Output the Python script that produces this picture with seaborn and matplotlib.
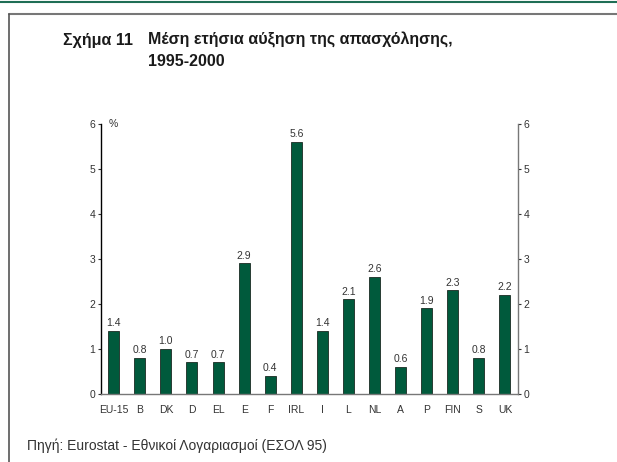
import matplotlib
matplotlib.use("Agg")
import matplotlib.pyplot as plt
from matplotlib.lines import Line2D
import seaborn as sns
import pandas as pd

countries = ["EU-15", "B", "DK", "D", "EL", "E", "F", "IRL", "I", "L",
             "NL", "A", "P", "FIN", "S", "UK"]
growth = [1.4, 0.8, 1.0, 0.7, 0.7, 2.9, 0.4, 5.6, 1.4, 2.1,
          2.6, 0.6, 1.9, 2.3, 0.8, 2.2]
y_ticks = [0, 1, 2, 3, 4, 5, 6]

sns.set_style("white")
plt.rcParams['font.family'] = ['Liberation Sans', 'DejaVu Sans']

df = pd.DataFrame({"country": countries, "growth": growth})

fig = plt.figure(figsize=(6.17, 4.62), dpi=100)
ax = fig.add_axes([0.1632, 0.1472, 0.6763, 0.5844])

sns.barplot(data=df, x="country", y="growth", color="#005a3c",
            saturation=1, width=0.42, edgecolor="#1a2a22", linewidth=0.6, ax=ax)
ax.bar_label(ax.containers[0], fmt="%.1f", padding=2, fontsize=7.5, color="#333333")

ax.set_xlim(-0.5, len(countries) - 0.5)
ax.set_ylim(0, 6)
ax.set_yticks(y_ticks)
ax.set_xlabel("")
ax.set_ylabel("")
ax.tick_params(axis="y", labelsize=7.5, colors="#333333", length=2, width=0.8,
               direction="out", pad=2, left=True)
ax.tick_params(axis="x", labelsize=7.5, colors="#333333", length=0, pad=8)
ax.spines["top"].set_visible(False)
ax.spines["left"].set_color("black")
ax.spines["left"].set_linewidth(1.0)
ax.spines["bottom"].set_color("#777777")
ax.spines["bottom"].set_linewidth(1.0)
ax.spines["right"].set_visible(False)

ax2 = ax.twinx()
ax2.set_ylim(0, 6)
ax2.set_yticks(y_ticks)
for s in ["top", "left", "bottom"]:
    ax2.spines[s].set_visible(False)
ax2.spines["right"].set_color("#777777")
ax2.spines["right"].set_linewidth(1.0)
ax2.tick_params(axis="y", labelsize=7.5, colors="#333333", length=2, width=0.8,
                direction="out", pad=2, right=True)

ax.text(0.02, 6.0, "%", fontsize=7.5, color="#333333", va="center", ha="left",
        transform=ax.get_yaxis_transform())

# title
fig.text(63 / 617, 1 - 40 / 462, "Σχήμα 11", fontsize=11.5, fontweight="bold",
         color="#1a1a1a", va="center", ha="left")
fig.text(148 / 617, 1 - 40 / 462, "Μέση ετήσια αύξηση της απασχόλησης,",
         fontsize=11.5, fontweight="bold", color="#1a1a1a", va="center", ha="left")
fig.text(148 / 617, 1 - 62 / 462, "1995-2000", fontsize=11.5, fontweight="bold",
         color="#1a1a1a", va="center", ha="left")

# source
fig.text(27 / 617, 1 - 446 / 462, "Πηγή: Eurostat - Εθνικοί Λογαριασμοί (ΕΣΟΛ 95)",
         fontsize=10, color="#333333", va="center", ha="left")

# frame lines
fig.add_artist(Line2D([0, 1], [1 - 1.5 / 462] * 2, color="#1f6e55", linewidth=1.5,
                      transform=fig.transFigure))
fig.add_artist(Line2D([9 / 617, 1], [1 - 14 / 462] * 2, color="#777777", linewidth=1.5,
                      transform=fig.transFigure))
fig.add_artist(Line2D([9 / 617, 9 / 617], [0, 1 - 14 / 462], color="#555555",
                      linewidth=1.2, transform=fig.transFigure))

fig.savefig("out.png", dpi=100)
